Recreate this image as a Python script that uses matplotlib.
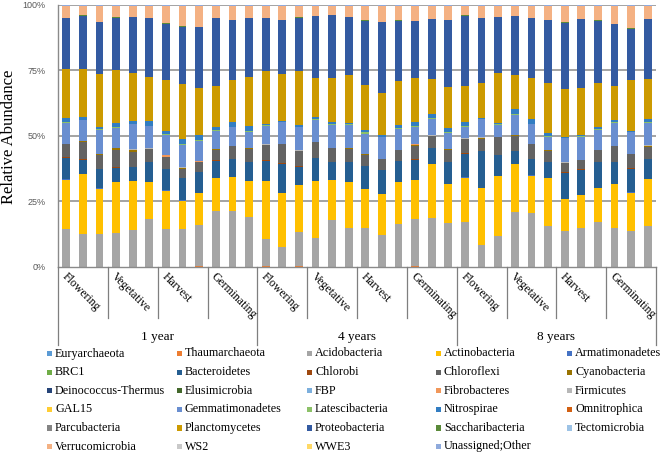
import numpy as np
import matplotlib
matplotlib.use("Agg")
import matplotlib.pyplot as plt
from matplotlib.patches import Rectangle

# ---------------- data ----------------
stages = ["Flowering", "Vegetative", "Harvest", "Germinating"]
ages = ["1 year", "4 years", "8 years"]

taxa = ["Euryarchaeota", "Thaumarchaeota", "Acidobacteria", "Actinobacteria", "Armatimonadetes",
        "BRC1", "Bacteroidetes", "Chlorobi", "Chloroflexi", "Cyanobacteria",
        "Deinococcus-Thermus", "Elusimicrobia", "FBP", "Fibrobacteres", "Firmicutes",
        "GAL15", "Gemmatimonadetes", "Latescibacteria", "Nitrospirae", "Omnitrophica",
        "Parcubacteria", "Planctomycetes", "Proteobacteria", "Saccharibacteria", "Tectomicrobia",
        "Verrucomicrobia", "WS2", "WWE3", "Unassigned;Other"]

colors = ["#5B9BD5", "#ED7D31", "#A5A5A5", "#FFC000", "#4472C4",
          "#70AD47", "#255E91", "#9E480E", "#636363", "#997300",
          "#264478", "#43682B", "#7CAFDD", "#F1975A", "#B7B7B7",
          "#FFCD33", "#698ED0", "#8CC168", "#327DC2", "#D26012",
          "#848484", "#CC9A00", "#335AA1", "#5A8A39", "#9DC3E6",
          "#F4B183", "#C9C9C9", "#FFD966", "#8FAADC"]

euryarchaeota = [0, 0, 0, 0, 0, 0, 0, 0, 0, 0, 0, 0, 0, 0, 0, 0, 0, 0,
                 0, 0, 0, 0, 0, 0, 0, 0, 0, 0, 0, 0, 0, 0, 0, 0, 0, 0]
thaumarchaeota = [0, 0, 0, 0, 0, 0, 0, 0, 0.1, 0, 0, 0, 0.1, 0, 0.1, 0, 0, 0,
                  0, 0, 0, 0.1, 0, 0, 0, 0, 0, 0, 0, 0, 0, 0, 0, 0, 0, 0]
acidobacteria = [14.3, 12.5, 12.5, 13.0, 14.0, 18.1, 14.3, 14.5, 15.7, 21.4, 21.3, 19.0,
                 10.4, 7.5, 13.1, 11.1, 17.8, 15.0, 14.9, 12.1, 16.3, 18.2, 18.7, 16.7,
                 17.2, 8.3, 11.6, 20.8, 20.4, 15.5, 13.8, 14.8, 17.2, 15.0, 13.8, 15.5]
actinobacteria = [19.2, 23.1, 17.5, 19.4, 18.7, 14.4, 15.0, 10.8, 12.4, 12.6, 13.1, 13.8,
                  22.3, 20.9, 18.0, 21.7, 15.5, 17.5, 15.0, 15.7, 16.1, 15.2, 20.6, 15.0,
                  17.1, 21.8, 23.2, 18.6, 14.6, 18.5, 12.1, 12.7, 12.9, 16.7, 14.6, 18.2]
armatimonadetes = [0.1, 0.1, 0.1, 0.1, 0.1, 0.1, 0.1, 0.1, 0.1, 0.1, 0.1, 0.1,
                   0.1, 0.1, 0.1, 0.1, 0.1, 0.1, 0.1, 0.1, 0.1, 0.1, 0.1, 0.1,
                   0.1, 0.1, 0.1, 0.1, 0.1, 0.1, 0.1, 0.1, 0.1, 0.1, 0.1, 0.1]
brc1 = [0, 0, 0, 0, 0, 0, 0, 0, 0, 0, 0, 0, 0, 0, 0, 0, 0, 0,
        0, 0, 0, 0, 0, 0, 0, 0, 0, 0, 0, 0, 0, 0, 0, 0, 0, 0]
bacteroidetes = [8.3, 5.5, 7.5, 5.6, 5.4, 7.5, 8.3, 8.7, 7.9, 6.5, 6.8, 7.3,
                 7.8, 11.2, 6.9, 8.8, 6.8, 7.5, 8.7, 9.3, 7.9, 7.8, 6.0, 8.3,
                 9.2, 14.0, 8.0, 4.8, 6.2, 6.1, 10.1, 9.7, 9.9, 8.5, 9.2, 7.4]
chlorobi = [0.1, 0.1, 0.1, 0.1, 0.1, 0.1, 0.1, 0.1, 0.1, 0.3, 0.1, 0.1,
            0.5, 0.1, 0.6, 0.1, 0.1, 0.1, 0.1, 0.1, 0.1, 0.1, 0.1, 0.1,
            0.1, 0.1, 0.1, 0.1, 0.1, 0.1, 0.4, 0.4, 0.1, 0.1, 0.1, 0.1]
chloroflexi = [5.1, 6.8, 5.4, 6.8, 5.9, 5.0, 4.5, 3.4, 3.8, 4.1, 5.0, 5.1,
               5.6, 7.3, 5.7, 6.1, 5.1, 5.2, 4.3, 4.1, 4.3, 5.4, 4.7, 4.8,
               5.5, 4.8, 6.8, 6.0, 5.7, 4.3, 3.4, 3.3, 4.5, 5.9, 5.4, 4.7]
cyanobacteria = [0.1, 0.1, 0.1, 0.5, 0.8, 0.1, 0.1, 0.1, 0.1, 0.1, 0.1, 0.1,
                 0.1, 0.1, 0.1, 0.1, 0.1, 0.1, 0.1, 0.1, 0.1, 0.3, 0.1, 0.1,
                 0.1, 0.1, 0.1, 0.1, 0.1, 0.1, 0.1, 0.1, 0.1, 0.1, 0.1, 0.5]
deinococcus = [0, 0, 0, 0, 0, 0, 0, 0, 0, 0, 0, 0, 0, 0, 0, 0, 0, 0,
               0, 0, 0, 0, 0, 0, 0, 0, 0, 0, 0, 0, 0, 0, 0, 0, 0, 0]
elusimicrobia = [0, 0, 0, 0, 0, 0, 0, 0, 0, 0, 0, 0, 0, 0, 0, 0, 0, 0,
                 0, 0, 0, 0, 0, 0, 0, 0, 0, 0, 0, 0, 0, 0, 0, 0, 0, 0]
fbp = [0, 0, 0, 0, 0, 0, 0, 0, 0, 0, 0, 0, 0, 0, 0, 0, 0, 0,
       0, 0, 0, 0, 0, 0, 0, 0, 0, 0, 0, 0, 0, 0, 0, 0, 0, 0]
fibrobacteres = [0, 0, 0, 0, 0, 0, 0.5, 0, 0.4, 0, 0, 0, 0, 0, 0, 0, 0, 0,
                 0, 0, 0, 0.3, 0, 0, 0, 0, 0, 0, 0, 0, 0, 0, 0, 0, 0, 0]
firmicutes = [0.1, 0.1, 0.1, 0.1, 0.3, 0.1, 0.1, 0.4, 0.1, 0.1, 0.1, 0.1,
              0.1, 0.2, 0.1, 0.1, 0.1, 0.1, 0.1, 0.1, 0.1, 0.1, 0.1, 0.1,
              0.1, 0.6, 0.1, 0.1, 0.1, 0.1, 0.1, 0.1, 0.1, 0.1, 0.1, 0.1]
gal15 = [0, 0, 0, 0, 0, 0, 0, 0, 0, 0, 0, 0, 0, 0, 0, 0, 0, 0,
         0, 0, 0, 0, 0, 0, 0, 0, 0, 0, 0, 0, 0, 0, 0, 0, 0, 0]
gemmatimonadetes = [7.9, 8.0, 9.4, 7.8, 9.4, 8.5, 7.8, 8.6, 7.6, 6.8, 7.1, 6.4,
                    7.1, 8.2, 9.0, 8.4, 8.9, 9.0, 7.9, 8.2, 7.9, 6.6, 6.2, 6.1,
                    4.6, 6.8, 4.6, 7.8, 7.4, 5.2, 9.3, 8.8, 7.6, 8.7, 8.3, 8.4]
latescibacteria = [0.3, 0.3, 0.3, 0.3, 0.3, 0.3, 0.3, 0.4, 0.5, 0.4, 0.3, 0.3,
                   0.2, 0.1, 0.2, 0.2, 0.3, 0.2, 0.5, 0.3, 0.4, 0.3, 0.4, 0.4,
                   0.3, 0.2, 0.3, 0.4, 0.3, 0.3, 0.2, 0.3, 0.3, 0.4, 0.2, 0.4]
nitrospirae = [1.6, 1.2, 0.6, 1.5, 1.1, 1.7, 1.0, 1.8, 1.9, 1.5, 1.9, 1.7,
               0.6, 0.4, 0.6, 0.8, 0.8, 0.3, 1.0, 0.7, 1.1, 1.6, 1.5, 1.8,
               1.4, 0.4, 0.5, 1.8, 1.7, 1.0, 0.4, 0.5, 1.1, 0.9, 0.4, 1.1]
omnitrophica = [0, 0, 0, 0, 0, 0, 0, 0, 0, 0, 0, 0, 0, 0, 0, 0, 0, 0,
                0, 0, 0, 0, 0, 0, 0, 0, 0, 0, 0, 0, 0, 0, 0, 0, 0, 0]
parcubacteria = [0, 0, 0, 0, 0, 0, 0, 0, 0, 0, 0, 0, 0, 0, 0, 0, 0, 0,
                 0, 0, 0, 0, 0, 0, 0, 0, 0, 0, 0, 0, 0, 0, 0, 0, 0, 0]
planctomycetes = [19.1, 18.5, 20.6, 20.4, 18.2, 16.9, 19.7, 21.1, 18.2, 15.8, 16.2, 19.0,
                  20.3, 18.3, 20.8, 15.2, 16.9, 18.6, 17.3, 16.2, 16.9, 16.8, 13.6, 15.7,
                  13.9, 13.5, 19.2, 13.2, 15.9, 19.4, 18.3, 18.0, 16.7, 13.2, 19.6, 15.4]
proteobacteria = [19.4, 20.4, 20.0, 20.3, 21.5, 22.7, 21.9, 22.2, 23.2, 25.9, 23.1, 22.7,
                  20.5, 20.8, 20.5, 23.8, 24.1, 22.2, 24.6, 27.3, 23.3, 22.2, 22.9, 25.6,
                  27.1, 24.7, 21.5, 22.5, 22.9, 24.3, 25.5, 26.4, 24.1, 23.6, 19.7, 23.3]
saccharibacteria = [0.1, 0.1, 0.1, 0.1, 0.1, 0.1, 0.2, 0.1, 0.1, 0.1, 0.1, 0.1,
                    0.1, 0.1, 0.1, 0.1, 0.1, 0.1, 0.2, 0.1, 0.1, 0.1, 0.1, 0.1,
                    0.2, 0.2, 0.1, 0.1, 0.1, 0.1, 0.2, 0.1, 0.1, 0.1, 0.1, 0.1]
tectomicrobia = [0, 0, 0, 0, 0, 0, 0, 0, 0, 0, 0, 0, 0, 0, 0, 0, 0, 0,
                 0, 0, 0, 0, 0, 0, 0, 0, 0, 0, 0, 0, 0, 0, 0, 0, 0, 0]
verrucomicrobia = [4.8, 3.8, 6.2, 4.6, 4.5, 4.8, 6.8, 8.0, 8.3, 4.8, 5.4, 4.8,
                   4.7, 5.4, 4.6, 3.9, 3.7, 4.5, 5.7, 6.2, 5.7, 6.0, 5.2, 5.6,
                   3.8, 4.7, 4.3, 4.1, 4.8, 5.4, 6.5, 5.2, 5.7, 7.1, 8.8, 5.0]
ws2 = [0, 0, 0, 0, 0, 0, 0, 0, 0, 0, 0, 0, 0, 0, 0, 0, 0, 0,
       0, 0, 0, 0, 0, 0, 0, 0, 0, 0, 0, 0, 0, 0, 0, 0, 0, 0]
wwe3 = [0, 0, 0, 0, 0, 0, 0, 0, 0, 0, 0, 0, 0, 0, 0, 0, 0, 0,
        0, 0, 0, 0, 0, 0, 0, 0, 0, 0, 0, 0, 0, 0, 0, 0, 0, 0]
unassigned = [0.2, 0.2, 0.2, 0.2, 0.2, 0.2, 0.2, 0.2, 0.2, 0.2, 0.2, 0.2,
              0.2, 0.2, 0.2, 0.2, 0.2, 0.2, 0.2, 0.2, 0.2, 0.2, 0.2, 0.2,
              0.2, 0.2, 0.2, 0.2, 0.2, 0.2, 0.2, 0.2, 0.2, 0.2, 0.2, 0.2]

series = [euryarchaeota, thaumarchaeota, acidobacteria, actinobacteria, armatimonadetes,
          brc1, bacteroidetes, chlorobi, chloroflexi, cyanobacteria,
          deinococcus, elusimicrobia, fbp, fibrobacteres, firmicutes,
          gal15, gemmatimonadetes, latescibacteria, nitrospirae, omnitrophica,
          parcubacteria, planctomycetes, proteobacteria, saccharibacteria, tectomicrobia,
          verrucomicrobia, ws2, wwe3, unassigned]

# ---------------- figure ----------------
W, H = 660, 454
fig = plt.figure(figsize=(W / 100, H / 100), dpi=100)
x0, x1, ytop, ybot = 58, 656, 5, 266.5
ax = fig.add_axes([x0 / W, 1 - ybot / H, (x1 - x0) / W, (ybot - ytop) / H])

vals = np.array(series, dtype=float)
vals = vals / vals.sum(axis=0) * 100.0  # 100% stacked
n = vals.shape[1]
x = np.arange(n)
bottom = np.zeros(n)
for name, col, v in zip(taxa, colors, vals):
    ax.bar(x, v, bottom=bottom, width=0.47, color=col, linewidth=0, zorder=2)
    bottom += v

ax.set_xlim(-0.5, n - 0.5)
ax.set_ylim(0, 100)
ax.set_yticks([0, 25, 50, 75, 100])
ax.set_yticklabels(["0%", "25%", "50%", "75%", "100%"], fontfamily="Liberation Sans",
                   fontsize=6.5, color="#595959")
ax.tick_params(axis="y", length=0, pad=9)
ax.tick_params(axis="x", length=0, labelbottom=False)
ax.set_xticks([])
for yv in [25, 50, 75, 100]:
    ax.axhline(yv, color="#8a8a8a", lw=1.1, zorder=1)
for s in ["top", "right"]:
    ax.spines[s].set_visible(False)
ax.spines["left"].set_color("#8a8a8a")
ax.spines["bottom"].set_color("#8a8a8a")
ax.spines["left"].set_linewidth(1.0)
ax.spines["bottom"].set_linewidth(1.0)

# multi-level category axis
trans = ax.get_xaxis_transform()
axh = ybot - ytop
def fy(ypx):
    return (ybot - ypx) / axh

for k in range(len(ages) * len(stages) + 1):
    xb = -0.5 + 3 * k
    yend = 345 if k % 4 == 0 else 318
    ax.plot([xb, xb], [0, fy(yend)], transform=trans, color="#7f7f7f", lw=0.9,
            clip_on=False, zorder=3)

for a in range(len(ages)):
    for s, st in enumerate(stages):
        g = a * 4 + s
        xl = -0.5 + 3 * g
        ax.text(xl + 0.6, fy(271), st, transform=trans, rotation=-45,
                rotation_mode="anchor", ha="left", va="top",
                fontfamily="Liberation Serif", fontsize=8.5, color="black")
    ax.text(12 * a + 5.5, fy(337), ages[a], transform=trans, ha="center", va="center",
            fontfamily="Liberation Serif", fontsize=9.5, color="black")

fig.text(9 / W, 1 - 137 / H, "Relative Abundance", rotation=90, ha="center", va="center",
         fontfamily="Liberation Serif", fontsize=12, color="black")

# legend (row-major, 5 columns)
col_x = [47, 177, 307, 436, 567]
row_y0, row_dy = 353.5, 18.6
for i, (name, col) in enumerate(zip(taxa, colors)):
    r, c = divmod(i, 5)
    yc = row_y0 + r * row_dy
    fig.add_artist(Rectangle((col_x[c] / W, 1 - (yc + 2.6) / H), 5.2 / W, 5.2 / H,
                             transform=fig.transFigure, facecolor=col, edgecolor="none"))
    fig.text((col_x[c] + 8) / W, 1 - yc / H, name, ha="left", va="center",
             fontfamily="Liberation Serif", fontsize=8.7, color="black")

fig.savefig("out.png", dpi=100)
